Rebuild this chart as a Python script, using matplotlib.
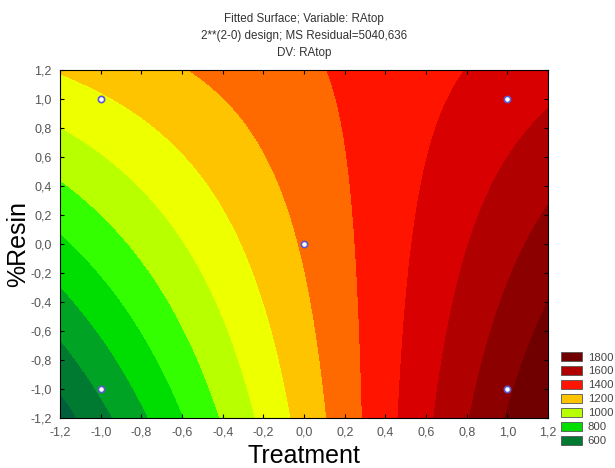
import matplotlib
matplotlib.use("Agg")
import matplotlib.pyplot as plt
import numpy as np
from matplotlib.patches import Patch

plt.rcParams["font.family"] = ["Liberation Sans", "DejaVu Sans"]

# design points (coded units) and fitted responses
design_x = [-1, -1, 1, 1, 0]
design_y = [-1, 1, -1, 1, 0]
response = [610, 1085, 1680, 1450, 1225]

# contour levels and the colour of each band (band ends at the level)
levels = [0, 500, 600, 700, 800, 900, 1000, 1100, 1200, 1300, 1400, 1500, 1600, 1700, 2500]
band_colors = ["#00603c", "#007a30", "#00a323", "#00dd00", "#33ff00", "#b8ff00", "#eeff00",
               "#ffc400", "#ff6a00", "#ff1400", "#d80000", "#b00000", "#8c0000", "#700000"]

legend_values = [1800, 1600, 1400, 1200, 1000, 800, 600]
legend_colors = ["#700000", "#b00000", "#ff1400", "#ffc400", "#b8ff00", "#00dd00", "#007a30"]

ticks = [-1.2, -1.0, -0.8, -0.6, -0.4, -0.2, 0.0, 0.2, 0.4, 0.6, 0.8, 1.0, 1.2]

# fit z = b0 + b1*x + b2*y + b12*x*y like the 2**(2-0) model
dx = np.array(design_x, float)
dy = np.array(design_y, float)
A = np.column_stack([np.ones_like(dx), dx, dy, dx * dy])
coef, *_ = np.linalg.lstsq(A, np.array(response, float), rcond=None)

gx, gy = np.meshgrid(np.linspace(-1.2, 1.2, 300), np.linspace(-1.2, 1.2, 300))
gz = coef[0] + coef[1] * gx + coef[2] * gy + coef[3] * gx * gy

fig = plt.figure(figsize=(6.15, 4.68), dpi=100)
ax = fig.add_axes([0.0976, 0.107, 0.7935, 0.743])

ax.contourf(gx, gy, gz, levels=levels, colors=band_colors)
ax.plot(design_x, design_y, "o", ms=4.5, mfc="white", mec="#5a5ad0", mew=1.2, ls="none")

ax.set_xlim(-1.2, 1.2)
ax.set_ylim(-1.2, 1.2)
tick_labels = [f"{t:.1f}".replace(".", ",") for t in ticks]
ax.set_xticks(ticks)
ax.set_xticklabels(tick_labels)
ax.set_yticks(ticks)
ax.set_yticklabels(tick_labels)
ax.tick_params(direction="in", length=3, width=0.8, top=True, right=True,
               labelsize=9, labelcolor="#555555", pad=6)
for s in ax.spines.values():
    s.set_linewidth(0.8)

ax.set_xlabel("Treatment", fontsize=18, labelpad=4)
ax.set_ylabel("%Resin", fontsize=18, labelpad=0)

ax.set_title("Fitted Surface; Variable: RAtop\n2**(2-0) design; MS Residual=5040,636\nDV: RAtop",
             fontsize=8.4, color="#333333", linespacing=1.55, pad=10)

handles = [Patch(facecolor=c, edgecolor="#555555", linewidth=0.6) for c in legend_colors]
fig.legend(handles, [str(v) for v in legend_values], loc="lower left",
           bbox_to_anchor=(0.899, 0.03), frameon=False, fontsize=8.2,
           labelcolor="#444444", handlelength=1.9, handleheight=0.85,
           labelspacing=0.3, handletextpad=0.45, borderpad=0.2)

fig.savefig("out.png", dpi=100)
